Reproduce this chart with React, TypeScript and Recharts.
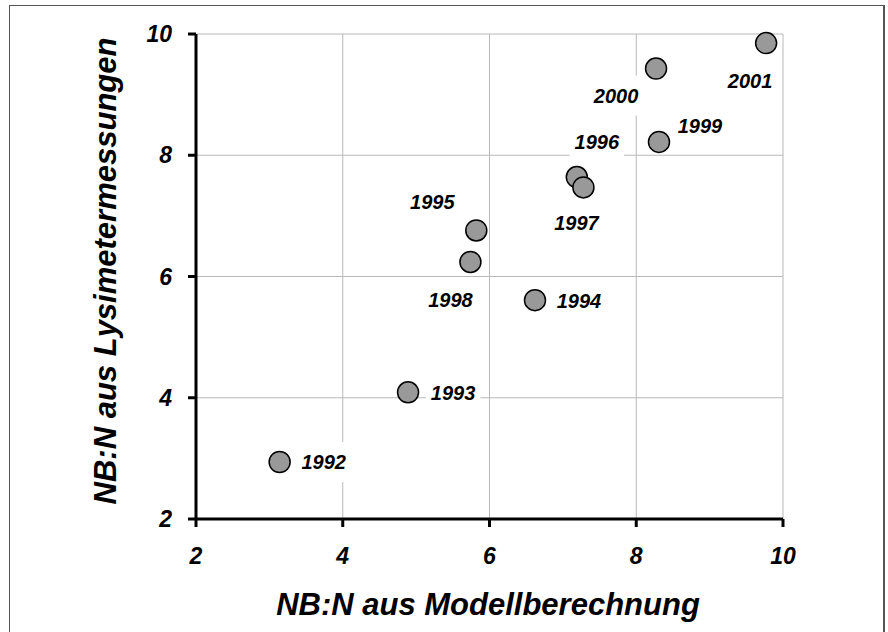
import { ScatterChart, Scatter, XAxis, YAxis, CartesianGrid } from "recharts";

const years = ["1992", "1993", "1994", "1995", "1996", "1997", "1998", "1999", "2000", "2001"];
const modelValues = [3.14, 4.89, 6.62, 5.82, 7.19, 7.28, 5.74, 8.31, 8.27, 9.77];
const lysimeterValues = [2.94, 4.09, 5.61, 6.76, 7.64, 7.47, 6.24, 8.22, 9.43, 9.85];
const axisTicks = [2, 4, 6, 8, 10];

// where each year label sits relative to its point (px)
const LABEL_OFFSET: Record<string, [number, number]> = {
  "1992": [44, 0],
  "1993": [45, 1],
  "1994": [44, 1],
  "1995": [-44, -28],
  "1996": [20, -35],
  "1997": [-7, 36],
  "1998": [-20, 38],
  "1999": [41, -16],
  "2000": [-40, 27],
  "2001": [-16, 38],
};

const FONT = "'Liberation Sans', Arial, sans-serif";
const LABEL_FS = 20;
const TICK_FS = 23;
const TITLE_FS = 31;

const data = years.map((year, i) => ({ year, x: modelValues[i], y: lysimeterValues[i] }));

function Dot(props: any) {
  const { cx, cy, payload } = props;
  const [dx, dy] = LABEL_OFFSET[payload.year] ?? [40, 0];
  const tw = payload.year.length * 0.556 * LABEL_FS;
  const lx = cx + dx;
  const ly = cy + dy;
  return (
    <g>
      <rect x={lx - tw / 2 - 5} y={ly - 20} width={tw + 10} height={40} fill="#fff" />
      <text
        x={lx}
        y={ly}
        textAnchor="middle"
        dominantBaseline="central"
        fontFamily={FONT}
        fontSize={LABEL_FS}
        fontWeight={700}
        fontStyle="italic"
        fill="#000"
      >
        {payload.year}
      </text>
      <circle cx={cx} cy={cy} r={10.5} fill="#999999" stroke="#000" strokeWidth={1.5} />
    </g>
  );
}

function XTick(props: any) {
  const { x, y, payload } = props;
  return (
    <text x={x} y={y} dy={TICK_FS * 0.71} textAnchor="middle" fontFamily={FONT} fontSize={TICK_FS} fontWeight={700} fontStyle="italic" fill="#000">
      {payload.value}
    </text>
  );
}

function YTick(props: any) {
  const { x, y, payload } = props;
  return (
    <text x={x} y={y} dy={TICK_FS * 0.355} textAnchor="end" fontFamily={FONT} fontSize={TICK_FS} fontWeight={700} fontStyle="italic" fill="#000">
      {payload.value}
    </text>
  );
}

export default function App() {
  return (
    <div style={{ position: "absolute", left: 0, top: 0, width: 888, height: 632, overflow: "hidden", background: "#fff" }}>
      <div style={{ position: "absolute", left: 9, top: 5, width: 876, height: 700, border: "1px solid #555", borderRightWidth: 2, boxSizing: "border-box" }} />
      <ScatterChart width={888} height={632} margin={{ top: 34, right: 105, bottom: 53, left: 90 }}>
        <CartesianGrid stroke="#b8b8b8" strokeWidth={1} />
        <XAxis
          type="number"
          dataKey="x"
          domain={[2, 10]}
          ticks={axisTicks}
          height={60}
          tickSize={8}
          tickMargin={21}
          axisLine={{ stroke: "#000", strokeWidth: 3 }}
          tickLine={{ stroke: "#000", strokeWidth: 3 }}
          tick={XTick}
          label={() => (
            <text x={488} y={615} textAnchor="middle" fontFamily={FONT} fontSize={TITLE_FS} fontWeight={700} fontStyle="italic" fill="#000">
              NB:N aus Modellberechnung
            </text>
          )}
        />
        <YAxis
          type="number"
          dataKey="y"
          domain={[2, 10]}
          ticks={axisTicks}
          width={106}
          tickSize={8}
          tickMargin={16}
          axisLine={{ stroke: "#000", strokeWidth: 3 }}
          tickLine={{ stroke: "#000", strokeWidth: 3 }}
          tick={YTick}
          label={() => (
            <text transform="translate(116, 271) rotate(-90)" textAnchor="middle" fontFamily={FONT} fontSize={TITLE_FS} fontWeight={700} fontStyle="italic" fill="#000">
              NB:N aus Lysimetermessungen
            </text>
          )}
        />
        <Scatter data={data} shape={Dot} isAnimationActive={false} />
      </ScatterChart>
    </div>
  );
}
